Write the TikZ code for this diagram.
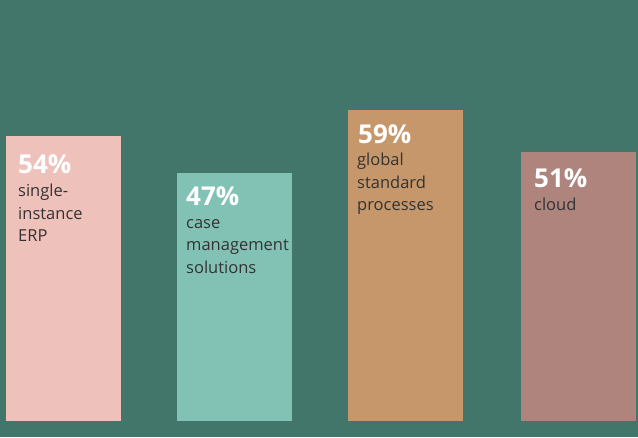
\documentclass[tikz,border=0pt]{standalone}
\usepackage{fontspec}
\setmainfont{Open Sans}
\definecolor{bg}{HTML}{43766A}
\definecolor{barA}{HTML}{EEC1BA}
\definecolor{barB}{HTML}{82C2B5}
\definecolor{barC}{HTML}{C6976B}
\definecolor{barD}{HTML}{AE847D}
\definecolor{labelc}{HTML}{333333}
\begin{document}
\begin{tikzpicture}[x=1pt,y=-1pt,
  pct/.style={anchor=base west,inner sep=0pt,text=white,font=\fontsize{26}{30}\selectfont\bfseries},
  lbl/.style={anchor=base west,inner sep=0pt,text=labelc,align=left,font=\fontsize{16.5}{22.5}\selectfont}]
\fill[bg] (0,0) rectangle (638,437);
\useasboundingbox (0,0) rectangle (638,437);
\fill[barA] (6,136) rectangle (121,421);
\fill[barB] (177,173) rectangle (292,421);
\fill[barC] (348,110) rectangle (463,421);
\fill[barD] (521,152) rectangle (636,421);
\node[pct] (p1) at (18,173) {54\%};
\node[lbl] (l1) at (18,241.5) {single-\\instance\\ERP};
\node[pct] (p2) at (186,205) {47\%};
\node[lbl] (l2) at (186,273) {case\\management\\solutions};
\node[pct] (p3) at (358,143) {59\%};
\node[lbl] (l3) at (357,210.5) {global\\standard\\processes};
\node[pct] (p4) at (534,187) {51\%};
\node[lbl] (l4) at (534,210) {cloud};
\end{tikzpicture}
\end{document}
